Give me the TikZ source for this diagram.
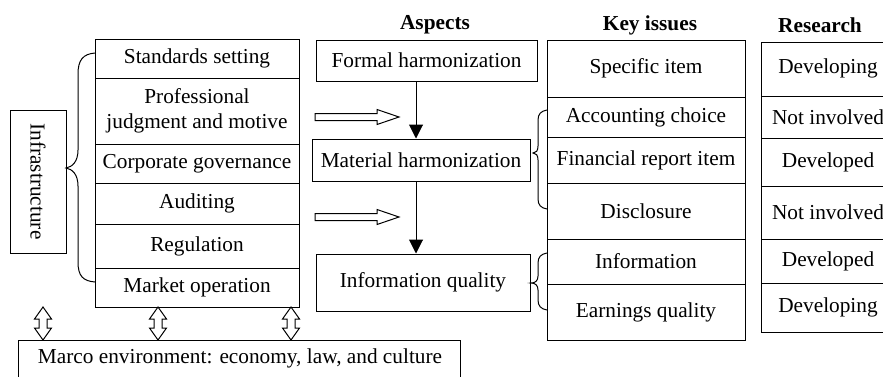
\documentclass[tikz,border=0pt]{standalone}
\usepackage{fontspec}
\setmainfont{Liberation Serif}
\usetikzlibrary{arrows.meta}
% a ruled box given by its corners (x1,y1) (x2,y2), y counted downwards
\newcommand\cellnode[6]{%
  \node[cell, minimum width={(#4-#2)*1pt}, minimum height={(#5-#3)*1pt}]
    (#1) at ({(#2+#4)/2},{(#3+#5)/2}) {#6};}
% hollow arrow pointing right, tail at (x,y)
\newcommand\hollowright[2]{%
  \draw[hollow] (#1,#2-3.5) -- (#1+62,#2-3.5) -- (#1+62,#2-7.5) -- (#1+84,#2)
    -- (#1+62,#2+7.5) -- (#1+62,#2+3.5) -- (#1,#2+3.5) -- cycle;}
% hollow two-headed vertical arrow from y1 down to y2 at x
\newcommand\hollowupdown[3]{%
  \draw[hollow] (#1,#2) -- (#1+8.5,#2+12) -- (#1+4,#2+12) -- (#1+4,#3-12)
    -- (#1+8.5,#3-12) -- (#1,#3) -- (#1-8.5,#3-12) -- (#1-4,#3-12)
    -- (#1-4,#2+12) -- (#1-8.5,#2+12) -- cycle;}
\begin{document}
\begin{tikzpicture}[x=1pt,y=-1pt,
  cell/.style={draw, line width=1pt, inner sep=0pt, align=center,
    font=\fontsize{21.3}{25}\selectfont},
  head/.style={inner sep=0pt, font=\fontsize{21.3}{25}\selectfont\bfseries},
  flow/.style={line width=1pt, -{Triangle[width=14pt,length=14pt]}},
  hollow/.style={line width=1pt, fill=white, line join=miter},
  brace/.style={line width=1pt}]
\useasboundingbox (0,0) rectangle (883,376);
\clip (0,0) rectangle (883,376);

% infrastructure label
\node[cell, minimum width=143pt, minimum height=56pt, rotate=-90]
  (infra) at (38,181.5) {Infrastructure};

% infrastructure elements
\cellnode{std}{95}{39}{299}{78}{Standards setting}
\cellnode{prof}{95}{78}{299}{144}{Professional\\judgment and motive}
\cellnode{gov}{95}{144}{299}{183}{Corporate governance}
\cellnode{aud}{95}{183}{299}{224}{\raisebox{3pt}{Auditing}}
\cellnode{reg}{95}{224}{299}{268}{Regulation}
\cellnode{mkt}{95}{268}{299}{307}{Market operation}

% brace gathering the elements
\draw[brace] (95,53) .. controls (83,54) and (78,60) .. (78,74) -- (78,150)
  .. controls (78,162) and (72,167) .. (66,168)
  .. controls (72,169) and (78,174) .. (78,186) -- (78,262)
  .. controls (78,276) and (83,281) .. (95,282);

% macro environment
\cellnode{env}{18}{340}{460}{392}{}
\node[inner sep=0pt, font=\fontsize{21.3}{25}\selectfont] (envtext) at (240,358)
  {Marco environment: economy, law, and culture};
\hollowupdown{43}{307}{340}
\hollowupdown{158}{307}{340}
\hollowupdown{291}{307}{340}

% aspects
\node[head] (hasp) at (435,25) {Aspects};
\cellnode{formal}{316}{40}{537}{81}{Formal harmonization}
\cellnode{material}{312}{139}{530}{181}{Material harmonization}
\cellnode{quality}{316}{254}{530}{311}{Information quality}
\coordinate (axis) at (416,0);
\draw[flow] (formal.south -| axis) -- (material.north -| axis);
\draw[flow] (material.south -| axis) -- (quality.north -| axis);
\hollowright{315}{117}
\hollowright{315}{217}

% key issues
\node[head] (hkey) at (650,25) {Key issues};
\cellnode{spec}{547}{40}{745}{97}{Specific item}
\cellnode{choice}{547}{97}{745}{137}{Accounting choice}
\cellnode{fin}{547}{137}{745}{183}{\raisebox{3pt}{Financial report item}}
\cellnode{disc}{547}{183}{745}{239}{Disclosure}
\cellnode{info}{547}{239}{745}{284}{Information}
\cellnode{earn}{547}{284}{745}{340}{Earnings quality}

% braces linking aspects to key issues
\draw[brace] (547,110) .. controls (541,111) and (538,114) .. (538,120) -- (538,146)
  .. controls (538,151) and (536,153) .. (533,153)
  .. controls (536,153) and (538,155) .. (538,160) -- (538,199)
  .. controls (538,205) and (541,208) .. (547,209);
\draw[brace] (547,253) .. controls (541,254) and (538,257) .. (538,263) -- (538,276)
  .. controls (538,281) and (535,283) .. (531,283)
  .. controls (535,283) and (538,285) .. (538,290) -- (538,300)
  .. controls (538,306) and (541,309) .. (547,310);

% research status
\node[head] (hres) at (820,25) {Research};
\cellnode{r1}{761}{42}{895}{96}{\raisebox{5pt}{Developing}}
\cellnode{r2}{761}{96}{895}{138}{Not involved}
\cellnode{r3}{761}{138}{895}{186}{\raisebox{4pt}{Developed}}
\cellnode{r4}{761}{186}{895}{239}{Not involved}
\cellnode{r5}{761}{239}{895}{283}{Developed}
\cellnode{r6}{761}{283}{895}{332}{Developing}
\end{tikzpicture}
\end{document}
